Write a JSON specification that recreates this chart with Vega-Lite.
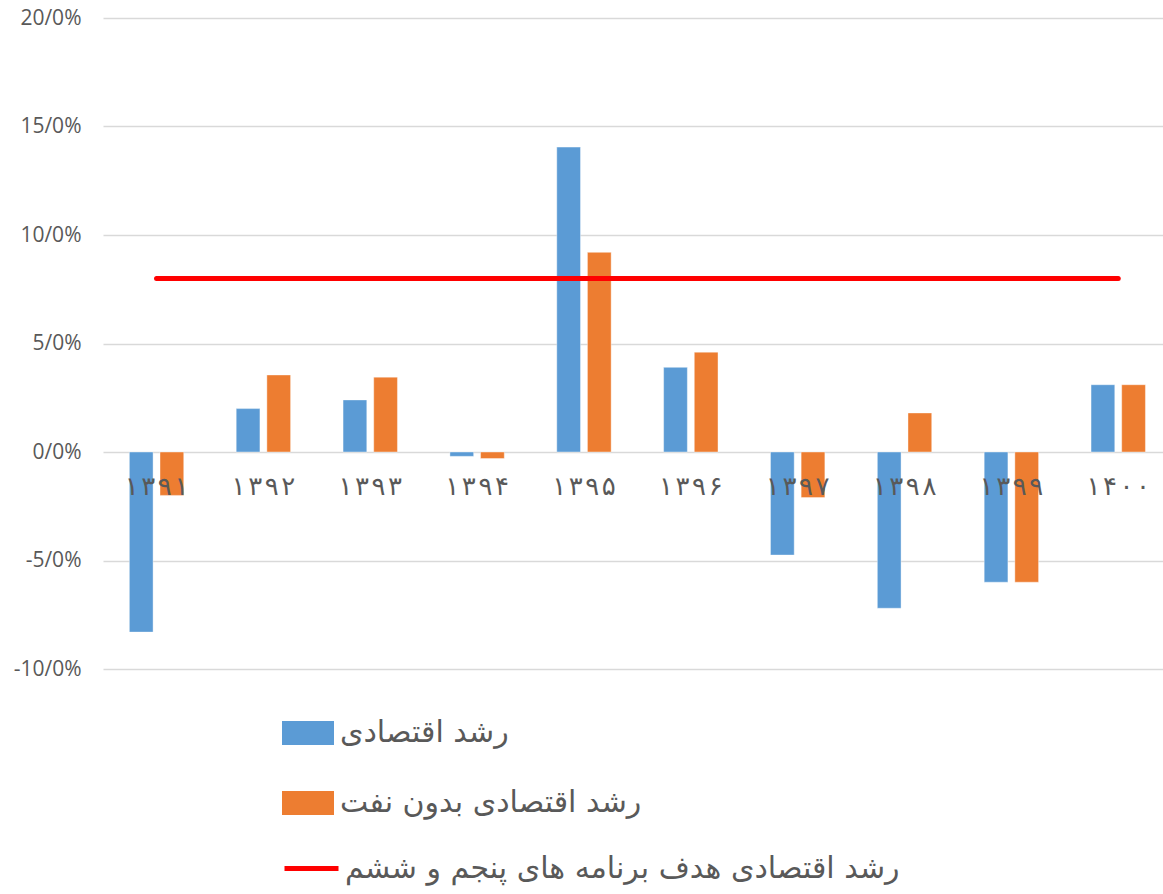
{
  "$schema": "https://vega.github.io/schema/vega-lite/v6.json",
  "autosize": "none",
  "width": 1060,
  "height": 651,
  "padding": {"left": 103, "top": 18, "right": 0, "bottom": 225},
  "background": "white",
  "datasets": {
    "bars": [
      {"year": "۱۳۹۱", "series": "رشد اقتصادی", "value": -8.3},
      {"year": "۱۳۹۱", "series": "رشد اقتصادی بدون نفت", "value": -2.0},
      {"year": "۱۳۹۲", "series": "رشد اقتصادی", "value": 2.0},
      {"year": "۱۳۹۲", "series": "رشد اقتصادی بدون نفت", "value": 3.55},
      {"year": "۱۳۹۳", "series": "رشد اقتصادی", "value": 2.4},
      {"year": "۱۳۹۳", "series": "رشد اقتصادی بدون نفت", "value": 3.45},
      {"year": "۱۳۹۴", "series": "رشد اقتصادی", "value": -0.2},
      {"year": "۱۳۹۴", "series": "رشد اقتصادی بدون نفت", "value": -0.3},
      {"year": "۱۳۹۵", "series": "رشد اقتصادی", "value": 14.05},
      {"year": "۱۳۹۵", "series": "رشد اقتصادی بدون نفت", "value": 9.2},
      {"year": "۱۳۹۶", "series": "رشد اقتصادی", "value": 3.9},
      {"year": "۱۳۹۶", "series": "رشد اقتصادی بدون نفت", "value": 4.6},
      {"year": "۱۳۹۷", "series": "رشد اقتصادی", "value": -4.75},
      {"year": "۱۳۹۷", "series": "رشد اقتصادی بدون نفت", "value": -2.1},
      {"year": "۱۳۹۸", "series": "رشد اقتصادی", "value": -7.2},
      {"year": "۱۳۹۸", "series": "رشد اقتصادی بدون نفت", "value": 1.8},
      {"year": "۱۳۹۹", "series": "رشد اقتصادی", "value": -6.0},
      {"year": "۱۳۹۹", "series": "رشد اقتصادی بدون نفت", "value": -6.0},
      {"year": "۱۴۰۰", "series": "رشد اقتصادی", "value": 3.1},
      {"year": "۱۴۰۰", "series": "رشد اقتصادی بدون نفت", "value": 3.1}
    ],
    "target": [
      {"year": "۱۳۹۱", "target": 8},
      {"year": "۱۳۹۲", "target": 8},
      {"year": "۱۳۹۳", "target": 8},
      {"year": "۱۳۹۴", "target": 8},
      {"year": "۱۳۹۵", "target": 8},
      {"year": "۱۳۹۶", "target": 8},
      {"year": "۱۳۹۷", "target": 8},
      {"year": "۱۳۹۸", "target": 8},
      {"year": "۱۳۹۹", "target": 8},
      {"year": "۱۴۰۰", "target": 8}
    ]
  },
  "config": {
    "view": {"stroke": null},
    "font": "DejaVu Sans"
  },
  "encoding": {
    "x": {
      "field": "year",
      "type": "nominal",
      "sort": null,
      "scale": {"paddingInner": 0.491, "paddingOuter": 0.2055, "align": 0.6},
      "axis": {
        "title": null,
        "orient": "bottom",
        "offset": -217,
        "domain": false,
        "ticks": false,
        "grid": false,
        "labelAngle": 0,
        "labelExpr": "join(split(datum.label, ''), '\u200a')",
        "labelFont": "DejaVu Sans",
        "labelFontSize": 26,
        "labelColor": "#595959",
        "labelPadding": 21,
        "zindex": 1
      }
    },
    "y": {
      "type": "quantitative",
      "scale": {"domain": [-10, 20], "nice": false},
      "axis": {
        "title": null,
        "values": [-10, -5, 0, 5, 10, 15, 20],
        "labelExpr": "replace(replace(format(datum.value, '.1f'), '.', '/'), '\u2212', '-') + '%'",
        "domain": false,
        "ticks": false,
        "grid": true,
        "gridColor": "#d9d9d9",
        "gridWidth": 1.5,
        "labelFont": "Open Sans",
        "labelFontSize": 21,
        "labelColor": "#595959",
        "labelPadding": 22
      }
    }
  },
  "layer": [
    {
      "data": {"name": "bars"},
      "mark": {"type": "bar", "stroke": "white", "strokeOpacity": 0.4, "strokeWidth": 1},
      "encoding": {
        "y": {"field": "value", "type": "quantitative"},
        "xOffset": {
          "field": "series",
          "type": "nominal",
          "sort": null,
          "scale": {"paddingInner": 0.226, "paddingOuter": 0}
        },
        "color": {
          "field": "series",
          "type": "nominal",
          "sort": null,
          "scale": {
            "domain": ["رشد اقتصادی", "رشد اقتصادی بدون نفت"],
            "range": ["#5b9bd5", "#ed7d31"]
          },
          "legend": {
            "title": null,
            "orient": "none",
            "legendX": 179,
            "legendY": 689,
            "direction": "vertical",
            "symbolType": "M-1,-0.46H1V0.46H-1Z",
            "symbolSize": 2704,
            "symbolStrokeWidth": 0,
            "labelFont": "DejaVu Sans",
            "labelFontSize": 30,
            "labelColor": "#595959",
            "labelOffset": 6,
            "labelLimit": 600,
            "rowPadding": 29
          }
        }
      }
    },
    {
      "data": {"name": "target"},
      "mark": {"type": "line", "strokeWidth": 5, "strokeCap": "round"},
      "encoding": {
        "y": {"field": "target", "type": "quantitative"},
        "stroke": {
          "datum": "رشد اقتصادی هدف برنامه های پنجم و ششم",
          "scale": {"range": ["#ff0000"]},
          "legend": {
            "title": null,
            "orient": "none",
            "legendX": 179,
            "legendY": 821,
            "symbolType": "M-1,0H1",
            "symbolSize": 2916,
            "symbolStrokeWidth": 5,
            "labelFont": "DejaVu Sans",
            "labelFontSize": 30,
            "labelColor": "#595959",
            "labelOffset": 4,
            "labelLimit": 700
          }
        }
      }
    }
  ]
}
